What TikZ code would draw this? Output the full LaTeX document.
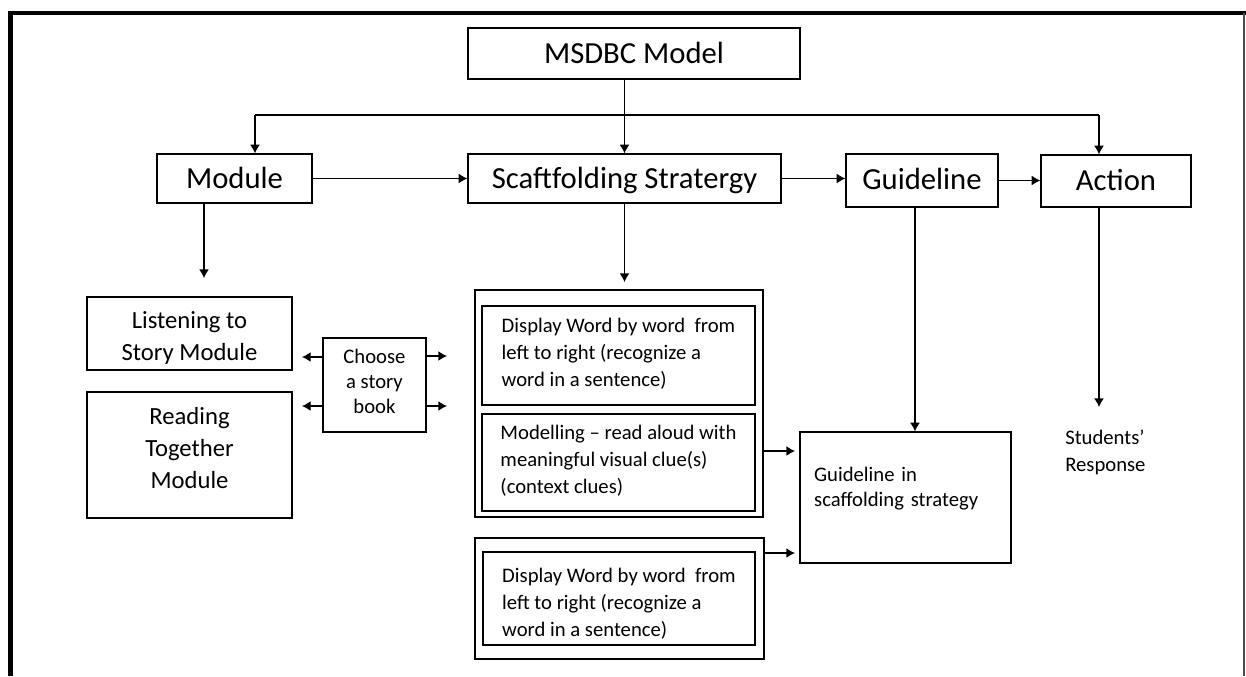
\documentclass[tikz,border=0pt]{standalone}
\usepackage{fontspec}
\setmainfont{Carlito}
\usetikzlibrary{arrows.meta}
\newcommand\fbig{\fontsize{23}{27}\selectfont}
\newcommand\fmed{\fontsize{18.5}{24}\selectfont}
\newcommand\fch{\fontsize{15.5}{18.75}\selectfont}
\newcommand\fsm{\fontsize{15.5}{20}\selectfont}
\newcommand\fgs{\fontsize{15.5}{18.25}\selectfont}
\newcommand\fst{\fontsize{15.5}{20.75}\selectfont}
\tikzset{
  box/.style={draw=black, line width=1pt, inner sep=0pt},
  pbox/.style 2 args={minimum width=#1*0.75pt, minimum height=#2*0.75pt},
  tpos/.style={text height=#1, text depth=0pt},
  bpos/.style={text height=0pt, text depth=#1},
  arr/.style={line width=1pt, -{Latex[length=6.5pt,width=7.5pt]}},
  conn/.style={line width=0.8pt},
}
\begin{document}
\begin{tikzpicture}[x=0.75pt,y=-0.75pt]
\useasboundingbox (0,0) rectangle (1246,676);
% frame
\draw[line width=3pt] (8,13) -- (1246,13);
\draw[line width=3.5pt] (10.5,11.5) -- (10.5,676);
\draw[line width=1pt, black!70] (1244,13) -- (1244,676);

% top row
\node[box, pbox={332}{51}, font=\fbig, tpos=14.7pt] (msdbc) at (634,53.5) {MSDBC Model};
\node[box, pbox={155}{49}, font=\fbig, tpos=14.7pt] (module) at (234.5,178.5) {Module};
\node[box, pbox={313}{49}, font=\fbig, tpos=14.7pt] (scaft) at (624.5,178.5) {Scaftfolding Stratergy};
\node[box, pbox={152}{53}, font=\fbig, tpos=13.2pt] (guide) at (922,180.5) {Guideline};
\node[box, pbox={150}{52}, font=\fbig, tpos=13.5pt] (action) at (1116,181) {Action};

% left column
\node[box, pbox={205}{73}, font=\fmed, align=center, tpos=39.75pt] (listen) at (189.5,333.5) {Listening to\\Story Module};
\node[box, pbox={205}{126}, font=\fmed, align=center, tpos=49.95pt] (reading) at (189.5,455) {Reading\\Together\\Module};
\node[box, pbox={103}{94}, font=\fch, align=center, tpos=42.5pt] (choose) at (374.5,385) {Choose\\a story\\book};

% middle groups
\node[box, pbox={288}{227}] (g1) at (619,403.5) {};
\node[box, pbox={273}{99}, font=\fsm, align=left, tpos=45.75pt] (in1) at (618.5,355.5) {Display Word by word\ \ from\\left to right (recognize a\\word in a sentence)};
\node[box, pbox={273}{97}, font=\fsm, align=left, tpos=46.2pt] (in2) at (618.5,462.5) {Modelling -- read aloud with\\meaningful visual clue(s)\\(context clues)};
\node[box, pbox={289}{121}] (g2) at (619.5,598.5) {};
\node[box, pbox={272}{93}, font=\fsm, align=left, tpos=56.7pt] (in3) at (619,598.5) {Display Word by word\ \ from\\left to right (recognize a\\word in a sentence)};

% right
\node[box, pbox={211}{131}, font=\fgs, align=left, text width=137pt, inner xsep=10.5pt, bpos=23.7pt] (gs) at (905.5,497.5) {Guideline in\\scaffolding strategy};
\node[font=\fst, align=left, anchor=base west, inner sep=0pt] (resp) at (1065,471.7) {Students'\\Response};

% connectors
\draw[arr] (msdbc.south -| scaft.north) -- (scaft.north);
\coordinate (tl) at (255,115);
\coordinate (tr) at (1099,115);
\draw[conn] (tl) -- (tr);
\draw[arr] (tl) -- (tl |- module.north);
\draw[arr] (tr) -- (tr |- action.north);
\draw[arr] (module.east) -- (scaft.west);
\draw[arr] (scaft.east) -- (scaft.east -| guide.west);
\draw[arr] (guide.east) -- (guide.east -| action.west);

\coordinate (md) at (204,278);
\draw[arr] (module.south -| md) -- (md);
\coordinate (sd) at (624.5,282);
\draw[arr] (scaft.south) -- (sd);
\coordinate (gx) at (915,300);
\draw[arr] (guide.south -| gx) -- (gx |- gs.north);
\coordinate (ad) at (1099,407);
\draw[arr] (action.south -| ad) -- (ad);

\coordinate (ca) at (302,357);
\coordinate (cb) at (302,406);
\coordinate (cc) at (447,356);
\coordinate (cd) at (447,406);
\draw[arr] (choose.west |- ca) -- (ca);
\draw[arr] (choose.west |- cb) -- (cb);
\draw[arr] (choose.east |- cc) -- (cc);
\draw[arr] (choose.east |- cd) -- (cd);

\coordinate (c1) at (795,451);
\coordinate (c2) at (795,553);
\draw[arr] (g1.east |- c1) -- (c1);
\draw[arr] (g2.east |- c2) -- (c2);
\end{tikzpicture}
\end{document}
